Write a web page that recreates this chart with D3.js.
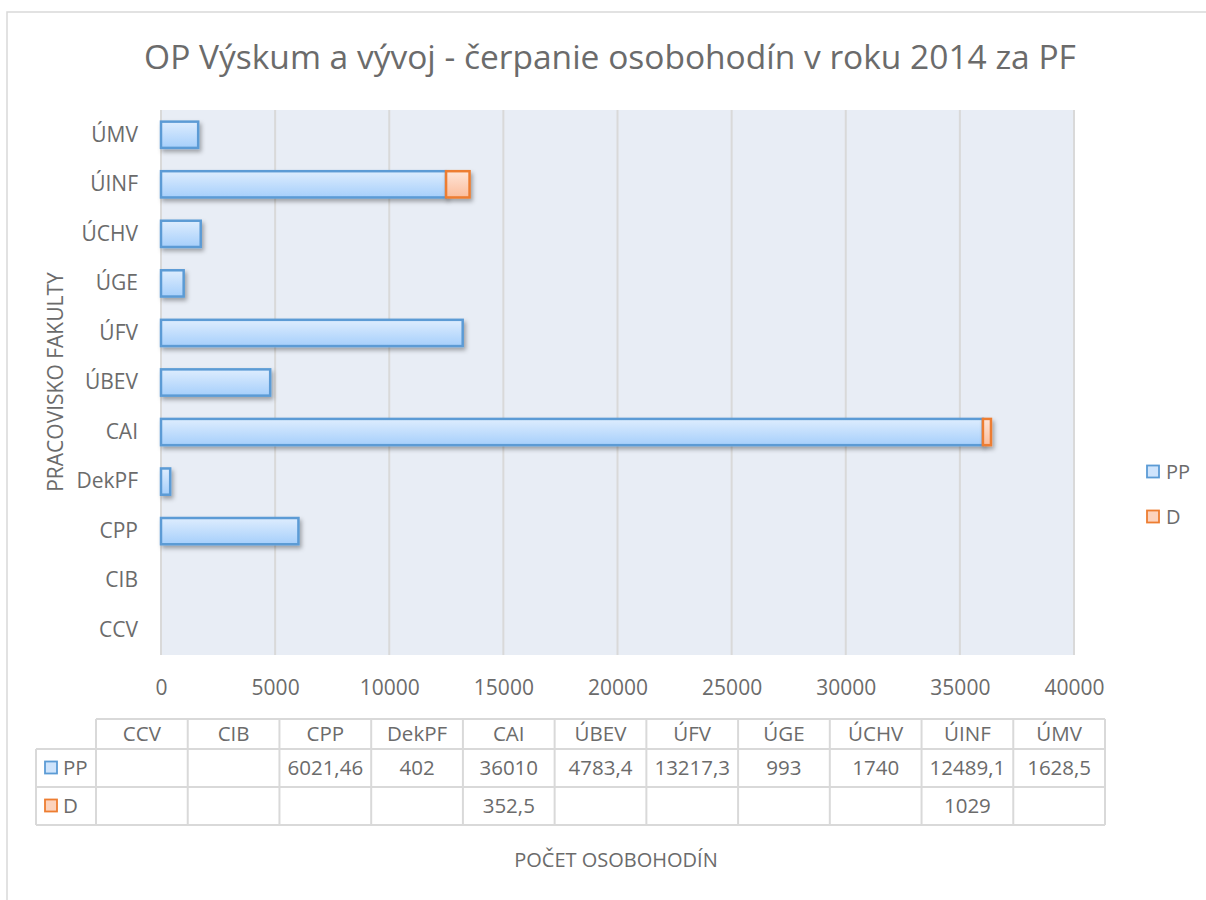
<!DOCTYPE html>
<html>
<head>
<meta charset="utf-8">
<script src="https://cdn.jsdelivr.net/npm/d3@7"></script>
<style>
  html, body { margin: 0; padding: 0; background: #fff; }
  svg text { font-family: "Open Sans", "Noto Sans", sans-serif; fill: #6b6b6b; }
</style>
</head>
<body>
<svg id="chart" width="1206" height="900"></svg>
<script>
const categories = ["CCV","CIB","CPP","DekPF","CAI","ÚBEV","ÚFV","ÚGE","ÚCHV","ÚINF","ÚMV"];
const seriesNames = ["PP","D"];
const ppValues = [null, null, 6021.46, 402, 36010, 4783.4, 13217.3, 993, 1740, 12489.1, 1628.5];
const dValues  = [null, null, null, null, 352.5, null, null, null, null, 1029, null];
const xTicks = [0,5000,10000,15000,20000,25000,30000,35000,40000];
const titleText = "OP Výskum a vývoj - čerpanie osobohodín v roku 2014 za PF";
const xTitle = "POČET OSOBOHODÍN";
const yTitle = "PRACOVISKO FAKULTY";

const svg = d3.select("#chart");
const defs = svg.append("defs");

function grad(id, top, bottom) {
  const g = defs.append("linearGradient").attr("id", id).attr("x1",0).attr("y1",0).attr("x2",0).attr("y2",1);
  g.append("stop").attr("offset","0%").attr("stop-color", top);
  g.append("stop").attr("offset","100%").attr("stop-color", bottom);
}
grad("gPP", "#deedfe", "#a6cffb");
grad("gD", "#fee5d8", "#fbbd9c");
const f = defs.append("filter").attr("id","shadow").attr("x","-10%").attr("y","-30%").attr("width","130%").attr("height","180%");
f.append("feDropShadow").attr("dx",2).attr("dy",3).attr("stdDeviation",2.2).attr("flood-color","#000").attr("flood-opacity",0.32);

const seriesStyle = {
  PP: {fill: "url(#gPP)", stroke: "#5b9bd5", legendFill: "#cfe4fc"},
  D:  {fill: "url(#gD)",  stroke: "#ed7d31", legendFill: "#fcd3bd"}
};

// chart border
svg.append("rect").attr("x",7).attr("y",12).attr("width",1215).attr("height",910)
  .attr("fill","none").attr("stroke","#d9d9d9").attr("stroke-width",1.5);

// title
svg.append("text").attr("x",610).attr("y",69).attr("text-anchor","middle")
  .style("font-size","33.5px").text(titleText);

const plot = {left:161, right:1074, top:110, bottom:655};
const x = d3.scaleLinear().domain([0,40000]).range([plot.left, plot.right]);
const y = d3.scaleBand().domain(categories).range([plot.bottom, plot.top]).paddingInner(0.47).paddingOuter(0.235);

svg.append("rect").attr("x",plot.left).attr("y",plot.top)
  .attr("width",plot.right-plot.left).attr("height",plot.bottom-plot.top).attr("fill","#e8edf5");

// gridlines
svg.append("g").selectAll("line").data(xTicks).join("line")
  .attr("x1", d => x(d)).attr("x2", d => x(d))
  .attr("y1", plot.top).attr("y2", plot.bottom)
  .attr("stroke","#d9d9d9").attr("stroke-width",2);

// x axis labels
const xAxis = d3.axisBottom(x).tickValues(xTicks).tickSize(0).tickPadding(0).tickFormat(d3.format("d"));
const gx = svg.append("g").attr("transform",`translate(0,${plot.bottom+40})`).call(xAxis);
gx.select(".domain").remove();
gx.selectAll("text").attr("dy","0").style("font-size","21px").attr("fill","#6b6b6b");

// y axis labels
const yAxis = d3.axisLeft(y).tickSize(0).tickPadding(0);
const gy = svg.append("g").attr("transform",`translate(${plot.left-23},0)`).call(yAxis);
gy.select(".domain").remove();
gy.selectAll("text").style("font-size","21px").attr("fill","#6b6b6b");

// stacked bars
const rows = categories.map((c,i) => ({cat:c, PP: ppValues[i] || 0, D: dValues[i] || 0}));
const stack = d3.stack().keys(seriesNames)(rows);
const barG = svg.append("g");
stack.forEach(layer => {
  const key = layer.key;
  barG.append("g").attr("filter","url(#shadow)")
    .selectAll("rect").data(layer.filter(d => d[1] - d[0] > 0)).join("rect")
    .attr("x", d => x(d[0]))
    .attr("y", d => y(d.data.cat))
    .attr("width", d => x(d[1]) - x(d[0]))
    .attr("height", y.bandwidth())
    .attr("fill", seriesStyle[key].fill)
    .attr("stroke", seriesStyle[key].stroke)
    .attr("stroke-width", 2.5);
});

// y axis title
svg.append("text").attr("transform","translate(63,382) rotate(-90)")
  .attr("text-anchor","middle").style("font-size","21px").text(yTitle);

// legend
const legend = svg.append("g");
seriesNames.forEach((s,i) => {
  const ly = 472 + i*45;
  legend.append("rect").attr("x",1147).attr("y",ly-6.5).attr("width",12).attr("height",12)
    .attr("fill", seriesStyle[s].legendFill).attr("stroke", seriesStyle[s].stroke).attr("stroke-width",1.8);
  legend.append("text").attr("x",1166).attr("y",ly).attr("dy","0.35em").style("font-size","20px").text(s);
});

// data table
const tbl = {left:96, right:1105, top:719, hdr:749, r1:787, r2:825, legLeft:36};
const tx = d3.scaleBand().domain(categories).range([tbl.left, tbl.right]);
const tg = svg.append("g");
const lineStyle = sel => sel.attr("stroke","#d9d9d9").attr("stroke-width",2);
// horizontal lines
tg.append("line").attr("x1",tbl.left).attr("x2",tbl.right).attr("y1",tbl.top).attr("y2",tbl.top).call(lineStyle);
[tbl.hdr, tbl.r1, tbl.r2].forEach(yy =>
  tg.append("line").attr("x1",tbl.legLeft).attr("x2",tbl.right).attr("y1",yy).attr("y2",yy).call(lineStyle));
// vertical lines
const vx = categories.map(c => tx(c)).concat([tbl.right]);
vx.forEach(xx => tg.append("line").attr("x1",xx).attr("x2",xx).attr("y1",tbl.top).attr("y2",tbl.r2).call(lineStyle));
tg.append("line").attr("x1",tbl.legLeft).attr("x2",tbl.legLeft).attr("y1",tbl.hdr).attr("y2",tbl.r2).call(lineStyle);

// header
tg.selectAll("text.hdr").data(categories).join("text").attr("class","hdr")
  .attr("x", c => tx(c) + tx.bandwidth()/2).attr("y", (tbl.top+tbl.hdr)/2).attr("dy","0.35em")
  .attr("text-anchor","middle").style("font-size","20.5px").text(c => c);

const fmt = v => String(v).replace(".", ",");
const tableSeries = [{name:"PP", vals: ppValues, y0: tbl.hdr, y1: tbl.r1}, {name:"D", vals: dValues, y0: tbl.r1, y1: tbl.r2}];
tableSeries.forEach(ts => {
  const cy = (ts.y0 + ts.y1)/2;
  tg.append("rect").attr("x",45).attr("y",cy-6.5).attr("width",12).attr("height",12)
    .attr("fill", seriesStyle[ts.name].legendFill).attr("stroke", seriesStyle[ts.name].stroke).attr("stroke-width",1.8);
  tg.append("text").attr("x",63).attr("y",cy).attr("dy","0.35em").style("font-size","20.5px").text(ts.name);
  tg.selectAll(null).data(categories.map((c,i) => ({c, v: ts.vals[i]})).filter(d => d.v != null)).join("text")
    .attr("x", d => tx(d.c) + tx.bandwidth()/2).attr("y", cy).attr("dy","0.35em")
    .attr("text-anchor","middle").style("font-size","20.5px").text(d => fmt(d.v));
});

// x title
svg.append("text").attr("x",616).attr("y",860).attr("dy","0.35em").attr("text-anchor","middle")
  .style("font-size","20px").text(xTitle);
</script>
</body>
</html>
